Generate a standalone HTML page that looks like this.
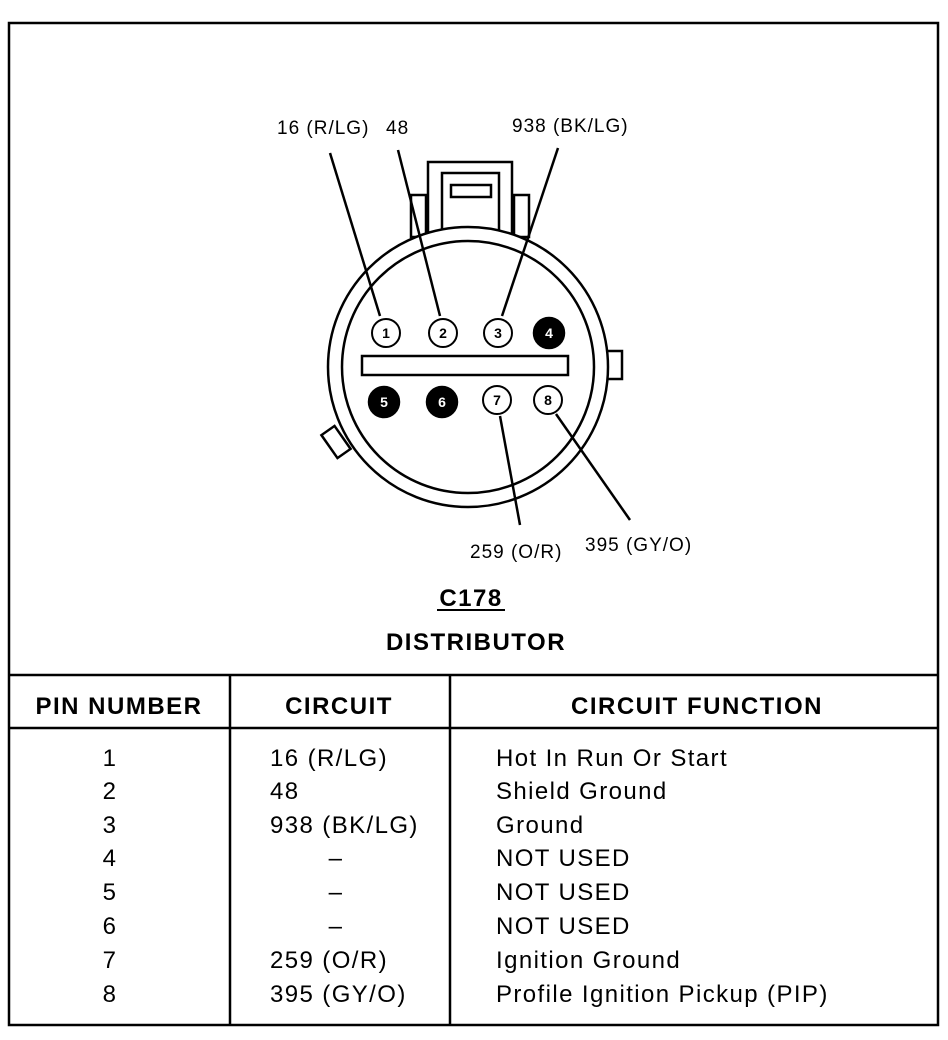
<!DOCTYPE html><html><head><style>
body{margin:0;background:#fff;width:948px;height:1040px;overflow:hidden;font-family:"Liberation Sans",Arial,sans-serif}
svg{position:absolute;left:0;top:0}
</style></head><body>
<svg width="948" height="1040" viewBox="0 0 948 1040" font-family="Liberation Sans, Arial, sans-serif">
<g fill="none" stroke="#000" stroke-width="2.5">
<rect x="9" y="23" width="929" height="1002"/>
<line x1="9" y1="675" x2="938" y2="675"/>
<line x1="9" y1="728" x2="938" y2="728"/>
<line x1="230" y1="675" x2="230" y2="1025"/>
<line x1="450" y1="675" x2="450" y2="1025"/>
<rect x="428" y="162" width="84" height="75"/>
<rect x="442" y="173" width="57" height="60"/>
<rect x="451" y="185" width="40" height="12"/>
<rect x="411" y="195" width="15" height="42"/>
<rect x="514" y="195" width="15" height="42"/>
<rect x="605" y="351" width="17" height="28" fill="#fff"/>
<rect x="328" y="428" width="16" height="28" transform="rotate(-35 336 442)" fill="#fff"/>
<circle cx="468" cy="367" r="140" fill="#fff"/>
<circle cx="468" cy="367" r="126"/>
<rect x="362" y="356" width="206" height="19"/>
<line x1="330" y1="153" x2="380" y2="316"/>
<line x1="398" y1="150" x2="440" y2="316"/>
<line x1="558" y1="148" x2="502" y2="316"/>
<line x1="500" y1="416" x2="520" y2="525"/>
<line x1="556" y1="414" x2="630" y2="520"/>
<g stroke-width="2" fill="#fff">
<circle cx="386" cy="333" r="14"/><circle cx="443" cy="333" r="14"/><circle cx="498" cy="333" r="14"/>
<circle cx="497" cy="400" r="14"/><circle cx="548" cy="400" r="14"/>
</g>
<g fill="#000">
<circle cx="549" cy="333" r="15"/><circle cx="384" cy="402" r="15"/><circle cx="442" cy="402" r="15"/>
</g>
</g>
<g font-size="14" text-anchor="middle" font-weight="bold">
<text x="386" y="338">1</text><text x="443" y="338">2</text><text x="498" y="338">3</text>
<text x="549" y="338" fill="#fff">4</text><text x="384" y="407" fill="#fff">5</text><text x="442" y="407" fill="#fff">6</text>
<text x="497" y="405">7</text><text x="548" y="405">8</text>
</g>
<g font-size="19" letter-spacing="1">
<text x="277" y="134">16 (R/LG)</text><text x="386" y="134">48</text>
<text x="512" y="132">938 (BK/LG)</text>
<text x="470" y="558">259 (O/R)</text><text x="585" y="551">395 (GY/O)</text>
</g>
<g font-size="24" font-weight="bold" text-anchor="middle" letter-spacing="1.5">
<text x="471" y="606">C178</text>
<line x1="437" y1="610" x2="505" y2="610" stroke="#000" stroke-width="2"/>
<text x="476" y="650">DISTRIBUTOR</text>
<text x="119" y="714">PIN NUMBER</text><text x="339" y="714">CIRCUIT</text><text x="697" y="714">CIRCUIT FUNCTION</text>
</g>
<g font-size="24" letter-spacing="1.4">
<g text-anchor="middle">
<text x="110" y="766">1</text><text x="110" y="799">2</text><text x="110" y="833">3</text><text x="110" y="866">4</text>
<text x="110" y="900">5</text><text x="110" y="934">6</text><text x="110" y="968">7</text><text x="110" y="1002">8</text>
<text x="336" y="866">–</text><text x="336" y="900">–</text><text x="336" y="934">–</text>
</g>
<text x="270" y="766">16 (R/LG)</text><text x="270" y="799">48</text><text x="270" y="833">938 (BK/LG)</text>
<text x="270" y="968">259 (O/R)</text><text x="270" y="1002">395 (GY/O)</text>
<text x="496" y="766">Hot In Run Or Start</text><text x="496" y="799">Shield Ground</text><text x="496" y="833">Ground</text>
<text x="496" y="866">NOT USED</text><text x="496" y="900">NOT USED</text><text x="496" y="934">NOT USED</text>
<text x="496" y="968">Ignition Ground</text><text x="496" y="1002">Profile Ignition Pickup (PIP)</text>
</g>
</svg>
</body></html>
